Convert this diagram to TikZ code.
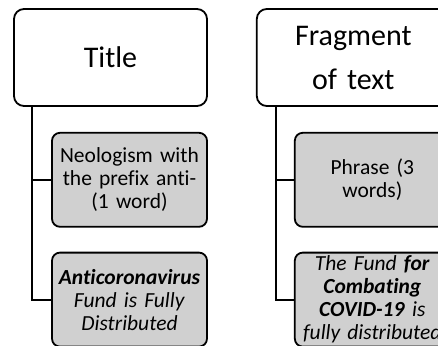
\documentclass[tikz,border=0pt]{standalone}
\usepackage{fontspec}
\setmainfont{Carlito}[Ligatures=NoCommon]
\usetikzlibrary{positioning}
\definecolor{boxgray}{RGB}{208,208,208}
\tikzset{
    %Define style for the top boxes
    headbox/.style={
           rectangle, rounded corners=10pt,
           draw = black, line width=1.8pt,
           fill = white,
           text width = 185pt, align = center,
           minimum height = 97pt,
           inner sep = 4pt,
           font = \fontsize{30}{44}\selectfont},
    %Define style for the grey boxes
    subbox/.style={
           rectangle, rounded corners=8pt,
           draw = black, line width=1.8pt,
           fill = boxgray,
           text width = 153pt, align = center,
           minimum height = 94pt,
           inner xsep = 1pt, inner ysep = 0pt,
           font = \fontsize{21.5}{23}\selectfont},
    % Define connector style
    tree/.style={
           -, line width=1.8pt}
}
\begin{document}
\begin{tikzpicture}[x=1pt, y=-1pt]
\useasboundingbox (0,0) rectangle (438,345);
\clip (0,0) rectangle (438,345);
 %nodes
\node[headbox] (title) at (110.5,57.5) {Title};
\node[headbox, right=48pt of title] (frag) {Fragment\\of text};
\node[subbox, below=25pt of title.south east, anchor=north east] (neo)
	{Neologism with\\the prefix anti-\\(1 word)};
\node[subbox, below=24pt of neo] (anti)
	{\textbf{\textit{Anticoronavirus}}\\ \textit{Fund is Fully}\\ \textit{Distributed}};
\node[subbox, below=25pt of frag.south east, anchor=north east] (phrase)
	{Phrase (3\\words)};
\node[subbox, below=24pt of phrase] (fund)
	{\textit{The Fund \textbf{for}}\\ \textbf{\textit{Combating}}\\
	 \textbf{\textit{COVID-19}} \textit{is}\\ \textit{fully distributed}};
 %connectors
\coordinate (tl) at ([xshift=19pt]title.south west);
\coordinate (fl) at ([xshift=20pt]frag.south west);
\draw[tree] (tl) |- (neo.west);
\draw[tree] (tl) |- (anti.west);
\draw[tree] (fl) |- (phrase.west);
\draw[tree] (fl) |- (fund.west);
\end{tikzpicture}
\end{document}
